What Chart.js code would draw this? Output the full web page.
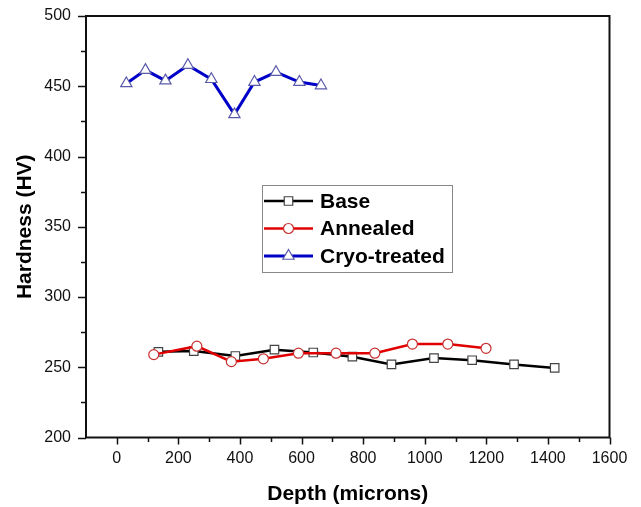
<!DOCTYPE html>
<html>
<head>
<meta charset="utf-8">
<script src="https://cdn.jsdelivr.net/npm/chart.js@4.4.0/dist/chart.umd.min.js"></script>
<style>
  html, body { margin: 0; padding: 0; background: #fff; }
</style>
</head>
<body>
<canvas id="chart" width="641" height="507"></canvas>
<script>
/* ================= DATA ================= */
const baseDepth = [135, 250, 385, 512, 638, 765, 892, 1030, 1154, 1290, 1422];
const baseHV    = [261, 261.5, 258, 262.5, 260.5, 257.5, 252, 256.5, 255, 252, 249.5];

const annDepth  = [120, 260, 372, 476, 590, 712, 838, 960, 1075, 1199];
const annHV     = [259, 265, 254, 256, 260, 260, 260, 266.5, 266.5, 263.5];

const cryoDepth = [31, 93, 158, 231, 307, 382, 447, 517, 593, 663];
const cryoHV    = [452, 461.5, 454, 465, 455, 430, 453, 460, 453, 450.5];

const seriesNames = ["Base", "Annealed", "Cryo-treated"];

const xTickLabels = [0, 200, 400, 600, 800, 1000, 1200, 1400, 1600];
const yTickLabels = [200, 250, 300, 350, 400, 450, 500];

const xTitle = "Depth (microns)";
const yTitle = "Hardness (HV)";

/* ================= HELPERS ================= */
const FONT = "'Liberation Sans', Arial, sans-serif";
const pts = (xs, ys) => xs.map((x, i) => ({ x, y: ys[i] }));

// invisible tick marks, only used to push the labels away from the axis
const spacer = len => ({
  display: true,
  drawOnChartArea: false,
  drawTicks: true,
  tickLength: len,
  tickColor: "rgba(0,0,0,0)"
});

/* frame + major/minor ticks */
const frameTicks = {
  id: "frameTicks",
  afterDatasetsDraw(chart) {
    const { ctx, chartArea: a, scales: { x, y } } = chart;
    ctx.save();
    ctx.strokeStyle = "#111";
    ctx.lineWidth = 1.5;
    ctx.beginPath();
    // x ticks, every 100 (labelled ones longer)
    for (let v = xTickLabels[0]; v <= xTickLabels[xTickLabels.length - 1]; v += 100) {
      const px = Math.round(x.getPixelForValue(v)) + 0.5;
      const len = xTickLabels.includes(v) ? 7 : 4.5;
      ctx.moveTo(px, a.bottom);
      ctx.lineTo(px, a.bottom + len);
    }
    // y ticks, every 25
    for (let v = yTickLabels[0]; v <= yTickLabels[yTickLabels.length - 1]; v += 25) {
      const py = Math.round(y.getPixelForValue(v)) + 0.5;
      const len = yTickLabels.includes(v) ? 8 : 5;
      ctx.moveTo(a.left, py);
      ctx.lineTo(a.left - len, py);
    }
    ctx.stroke();

    ctx.lineWidth = 2;
    ctx.strokeRect(a.left, a.top, a.right - a.left, a.bottom - a.top);
    ctx.restore();
  }
};

/* boxed legend with line + marker samples */
const boxLegend = {
  id: "boxLegend",
  afterDraw(chart) {
    const { ctx } = chart;
    const box = { x: 262, y: 185, w: 190, h: 87 };
    ctx.save();
    ctx.fillStyle = "#fff";
    ctx.fillRect(box.x, box.y, box.w, box.h);
    ctx.strokeStyle = "#888";
    ctx.lineWidth = 1;
    ctx.strokeRect(box.x + 0.5, box.y + 0.5, box.w, box.h);

    chart.data.datasets.forEach((ds, i) => {
      const cy = 201 + i * 27.5;
      ctx.strokeStyle = ds.borderColor;
      ctx.lineWidth = ds.borderWidth;
      ctx.beginPath();
      ctx.moveTo(264, cy);
      ctx.lineTo(313, cy);
      ctx.stroke();

      ctx.fillStyle = ds.pointBackgroundColor;
      ctx.strokeStyle = ds.pointBorderColor;
      ctx.lineWidth = ds.pointBorderWidth;
      Chart.helpers.drawPoint(ctx, {
        pointStyle: ds.pointStyle,
        radius: ds.pointRadius,
        rotation: 0,
        borderWidth: ds.pointBorderWidth
      }, 288.5, cy);

      ctx.fillStyle = "#000";
      ctx.font = "bold 21px " + FONT;
      ctx.textBaseline = "middle";
      ctx.fillText(ds.label, 320, cy + 1);
    });
    ctx.restore();
  }
};

/* ================= CHART ================= */
const ctx = document.getElementById("chart").getContext("2d");

new Chart(ctx, {
  type: "line",
  data: {
    datasets: [
      {
        label: seriesNames[0],
        data: pts(baseDepth, baseHV),
        borderColor: "#000",
        borderWidth: 2.5,
        pointStyle: "rect",
        pointRadius: 6,
        pointBackgroundColor: "#fff",
        pointBorderColor: "#444",
        pointBorderWidth: 1.2,
        order: 1
      },
      {
        label: seriesNames[1],
        data: pts(annDepth, annHV),
        borderColor: "#e00000",
        borderWidth: 2.5,
        pointStyle: "circle",
        pointRadius: 5,
        pointBackgroundColor: "#fff",
        pointBorderColor: "#c83030",
        pointBorderWidth: 1.2,
        order: 0
      },
      {
        label: seriesNames[2],
        data: pts(cryoDepth, cryoHV),
        borderColor: "#0000c8",
        borderWidth: 3,
        pointStyle: "triangle",
        pointRadius: 6.5,
        pointBackgroundColor: "#fff",
        pointBorderColor: "#5a5aaa",
        pointBorderWidth: 1.2,
        order: 2
      }
    ]
  },
  options: {
    responsive: false,
    animation: false,
    devicePixelRatio: 1,
    layout: { padding: { left: 0, top: 16, right: 31.5, bottom: 0 } },
    plugins: {
      legend: { display: false },
      tooltip: { enabled: false }
    },
    elements: { line: { tension: 0 } },
    scales: {
      x: {
        type: "linear",
        min: -100,
        max: 1600,
        afterFit: s => { s.height = 69.5; },
        afterBuildTicks: s => { s.ticks = xTickLabels.map(v => ({ value: v })); },
        grid: spacer(8),
        border: { display: false },
        ticks: {
          padding: 3,
          color: "#111",
          font: { family: FONT, size: 16 },
          maxRotation: 0,
          autoSkip: false,
          callback: v => String(v)
        },
        title: {
          display: true,
          text: xTitle,
          color: "#000",
          font: { family: FONT, size: 21, weight: "bold" },
          padding: { top: 3, bottom: 0 }
        }
      },
      y: {
        min: 200,
        max: 500,
        afterFit: s => { s.width = 86; },
        afterBuildTicks: s => { s.ticks = yTickLabels.map(v => ({ value: v })); },
        grid: spacer(11),
        border: { display: false },
        ticks: {
          padding: 4,
          color: "#111",
          font: { family: FONT, size: 16 },
          callback: v => String(v)
        },
        title: {
          display: true,
          text: yTitle,
          color: "#000",
          font: { family: FONT, size: 21, weight: "bold" },
          padding: { top: 13, bottom: 0 }
        }
      }
    }
  },
  plugins: [frameTicks, boxLegend]
});
</script>
</body>
</html>
